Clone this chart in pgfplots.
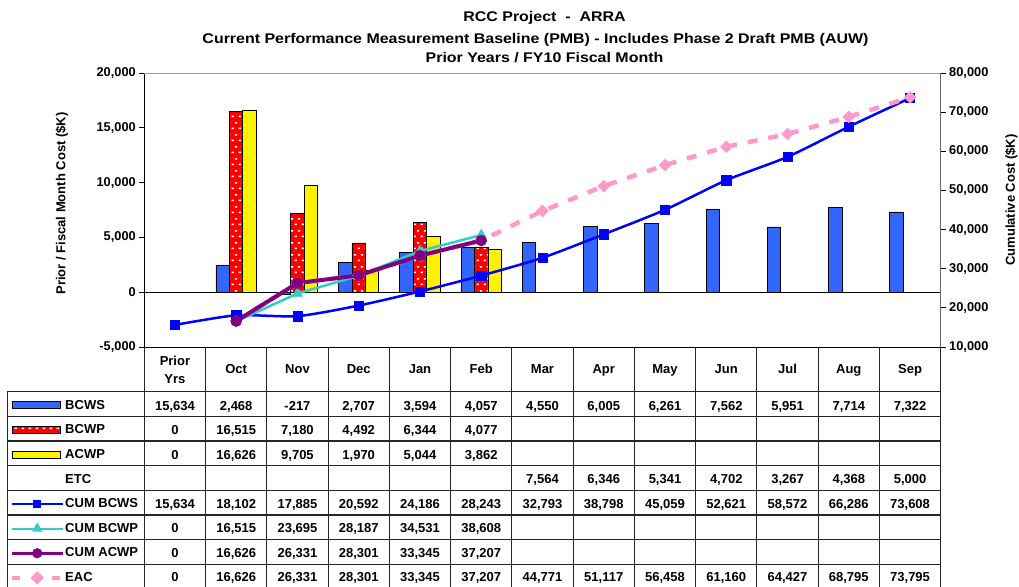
\documentclass[border=0pt]{standalone}
\usepackage{pgfplots}
\pgfplotsset{compat=1.18}
\usepackage{fontspec}
\setmainfont{Liberation Sans}
\newfontfamily\titlefont[FakeStretch=1.14]{Liberation Sans}
\usetikzlibrary{patterns.meta}
\definecolor{barblue}{HTML}{3366FF}
\definecolor{cumblue}{HTML}{0000FF}
\definecolor{cumcyan}{HTML}{33CCCC}
\definecolor{cumpurple}{HTML}{800080}
\definecolor{eacpink}{HTML}{FF99CC}
\tikzdeclarepattern{
  name=confetti, type=uncolored,
  bounding box={(0pt,0pt) and (7pt,12pt)},
  tile size={(7pt,12pt)},
  code={\fill (0.8pt,1pt) rectangle (3.4pt,2.5pt); \fill (4.3pt,7pt) rectangle (6.9pt,8.5pt);}
}
\pgfplotsset{
  barleg/.style={legend image code/.code={\draw[##1] (0pt,-3.5pt) rectangle (48pt,3.5pt);}},
  lineleg/.style={legend image code/.code={\draw[mark repeat=2,mark phase=2,##1] plot coordinates {(0pt,0pt) (25pt,0pt) (51pt,0pt)};}},
  common/.style={
    at={(144.3pt,-347pt)}, anchor=south west, scale only axis,
    width=796.4pt, height=274pt,
    xmin=-0.5, xmax=12.5, xtick=\empty,
    tick align=outside, major tick length=5pt,
    tick style={black, line width=0.8pt},
    scaled y ticks=false,
    yticklabel style={font=\fontsize{12.8}{14}\selectfont\bfseries},
    /pgf/number format/1000 sep={,},
    /pgf/number format/assume math mode=true,
  },
}
\newcommand\tabfont{\fontsize{13}{15}\selectfont\bfseries}
\begin{document}
\begin{tikzpicture}
\useasboundingbox (0pt,0pt) rectangle (1019pt,-586pt);
% ---------- left axis: monthly bars ----------
\begin{axis}[common,
  ymin=-5000, ymax=20000, ytick={-5000,0,5000,10000,15000,20000},
  axis x line*=bottom, axis y line*=left,
  axis line style={black, line width=1pt},
  extra y ticks={0}, extra y tick labels={},
  extra y tick style={grid=major, major grid style={black, line width=1pt}, major tick length=0pt},
]
\addplot[ybar, bar width=0.22, bar shift=-0.22, fill=barblue, draw=black, line width=0.9pt]
  coordinates {(1,2468) (2,-217) (3,2707) (4,3594) (5,4057) (6,4550) (7,6005) (8,6261) (9,7562) (10,5951) (11,7714) (12,7322)};
\addplot[ybar, bar width=0.22, bar shift=0, fill=red, draw=black, line width=0.9pt,
  postaction={pattern={confetti}, pattern color=white}]
  coordinates {(1,16515) (2,7180) (3,4492) (4,6344) (5,4077)};
\addplot[ybar, bar width=0.22, bar shift=0.22, fill=yellow, draw=black, line width=0.9pt]
  coordinates {(1,16626) (2,9705) (3,1970) (4,5044) (5,3862)};
\end{axis}
% ---------- right axis: cumulative lines ----------
\begin{axis}[common,
  ymin=10000, ymax=80000, ytick={10000,20000,...,80000},
  axis y line*=right, axis x line*=top,
  y axis line style={draw=black!60, line width=1.3pt},
  x axis line style={draw=black!40, line width=1pt},
  legend cell align=left,
  legend style={at={(-0.1686,-0.1668)}, anchor=north west, draw=none, fill=none,
    inner sep=0pt, row sep=0pt, font=\tabfont,
    nodes={inner sep=0pt, minimum height=24.66pt},
    /tikz/every odd column/.append style={column sep=0pt}},
]
\addlegendimage{barleg, fill=barblue, draw=black, line width=0.9pt}
\addlegendentry{BCWS}
\addlegendimage{barleg, fill=red, draw=black, line width=0.9pt, postaction={pattern={confetti}, pattern color=white}}
\addlegendentry{BCWP}
\addlegendimage{barleg, fill=yellow, draw=black, line width=0.9pt}
\addlegendentry{ACWP}
\addlegendimage{empty legend}
\addlegendentry{ETC}
\addlegendimage{lineleg, cumblue, line width=2pt, mark=square*, mark size=3pt, mark options={solid}}
\addlegendentry{CUM BCWS}
\addlegendimage{lineleg, cumcyan, line width=2pt, mark=triangle*, mark size=4pt, mark options={solid}}
\addlegendentry{CUM BCWP}
\addlegendimage{lineleg, cumpurple, line width=3pt, mark=*, mark size=3.5pt, mark options={solid}}
\addlegendentry{CUM ACWP}
\addlegendimage{lineleg, eacpink, line width=4pt, dash pattern=on 8pt off 12pt, mark=square*, mark size=2.8pt, mark options={solid, rotate=45}}
\addlegendentry{EAC}
% CUM BCWS
\addplot[forget plot, cumblue, line width=2.5pt, smooth, tension=0.4, mark=square*, mark size=4.6pt, mark options={solid, line width=0.4pt}]
  coordinates {(0,15634) (1,18102) (2,17885) (3,20592) (4,24186) (5,28243) (6,32793) (7,38798) (8,45059) (9,52621) (10,58572) (11,66286) (12,73608)};
% EAC
\addplot[forget plot, eacpink, line width=4.5pt, dash pattern=on 10pt off 11pt, mark=square*, mark size=4.2pt, mark options={solid, rotate=45, line width=0.4pt}]
  coordinates {(1,16626) (2,26331) (3,28301) (4,33345) (5,37207) (6,44771) (7,51117) (8,56458) (9,61160) (10,64427) (11,68795) (12,73795)};
% CUM BCWP
\addplot[forget plot, cumcyan, line width=2.5pt, mark=triangle*, mark size=6pt, mark options={solid, line width=0.4pt}]
  coordinates {(1,16515) (2,23695) (3,28187) (4,34531) (5,38608)};
% CUM ACWP
\addplot[forget plot, cumpurple, line width=4pt, mark=*, mark size=5.5pt, mark options={solid, line width=0.4pt}]
  coordinates {(1,16626) (2,26331) (3,28301) (4,33345) (5,37207)};
\end{axis}
% ---------- titles and axis labels ----------
\begin{scope}[every node/.style={font={\titlefont\fontsize{14}{16}\selectfont\bfseries}, anchor=base, inner sep=0pt}]
\node at (544.5pt,-21.7pt) {RCC Project~~-~~ARRA};
\node at (535.5pt,-43.3pt) {Current Performance Measurement Baseline (PMB) - Includes Phase 2 Draft PMB (AUW)};
\node at (544.5pt,-62.7pt) {Prior Years / FY10 Fiscal Month};
\end{scope}
\node[rotate=90, font=\fontsize{13}{15}\selectfont\bfseries] at (62pt,-203.5pt) {Prior / Fiscal Month Cost (\$K)};
\node[rotate=90, font=\fontsize{13}{15}\selectfont\bfseries] at (1011.5pt,-200pt) {Cumulative Cost (\$K)};
% ---------- data table ----------
\begin{scope}[line width=1.1pt, draw=black!85]
\foreach \j in {0,...,7} \draw ({7.3pt},{-391.7pt-24.66pt*\j}) -- ({940.7pt},{-391.7pt-24.66pt*\j});
\foreach \k in {0,...,13} \draw ({144.3pt+61.26pt*\k},-347pt) -- ({144.3pt+61.26pt*\k},-590pt);
\draw (7.3pt,-391.7pt) -- (7.3pt,-590pt);
\end{scope}
\begin{scope}[every node/.style={font=\tabfont, anchor=base, inner sep=0pt}]
\node at (174.93pt,-365.7pt) {Prior};
\node at (174.93pt,-383.3pt) {Yrs};
\foreach \m [count=\i from 1] in {Oct,Nov,Dec,Jan,Feb,Mar,Apr,May,Jun,Jul,Aug,Sep}
  \node at ({174.93pt+61.26pt*\i},-373.3pt) {\m};
% BCWS
\foreach \v [count=\i from 0] in {{15,634},{2,468},{-217},{2,707},{3,594},{4,057},{4,550},{6,005},{6,261},{7,562},{5,951},{7,714},{7,322}}
  \node at ({174.93pt+61.26pt*\i},{-410pt}) {\v};
% BCWP
\foreach \v [count=\i from 0] in {{0},{16,515},{7,180},{4,492},{6,344},{4,077}}
  \node at ({174.93pt+61.26pt*\i},{-410pt-24.53pt}) {\v};
% ACWP
\foreach \v [count=\i from 0] in {{0},{16,626},{9,705},{1,970},{5,044},{3,862}}
  \node at ({174.93pt+61.26pt*\i},{-410pt-49.06pt}) {\v};
% ETC
\foreach \v [count=\i from 6] in {{7,564},{6,346},{5,341},{4,702},{3,267},{4,368},{5,000}}
  \node at ({174.93pt+61.26pt*\i},{-410pt-73.59pt}) {\v};
% CUM BCWS
\foreach \v [count=\i from 0] in {{15,634},{18,102},{17,885},{20,592},{24,186},{28,243},{32,793},{38,798},{45,059},{52,621},{58,572},{66,286},{73,608}}
  \node at ({174.93pt+61.26pt*\i},{-410pt-98.12pt}) {\v};
% CUM BCWP
\foreach \v [count=\i from 0] in {{0},{16,515},{23,695},{28,187},{34,531},{38,608}}
  \node at ({174.93pt+61.26pt*\i},{-410pt-122.65pt}) {\v};
% CUM ACWP
\foreach \v [count=\i from 0] in {{0},{16,626},{26,331},{28,301},{33,345},{37,207}}
  \node at ({174.93pt+61.26pt*\i},{-410pt-147.18pt}) {\v};
% EAC
\foreach \v [count=\i from 0] in {{0},{16,626},{26,331},{28,301},{33,345},{37,207},{44,771},{51,117},{56,458},{61,160},{64,427},{68,795},{73,795}}
  \node at ({174.93pt+61.26pt*\i},{-410pt-171.71pt}) {\v};
\end{scope}
\end{tikzpicture}
\end{document}
